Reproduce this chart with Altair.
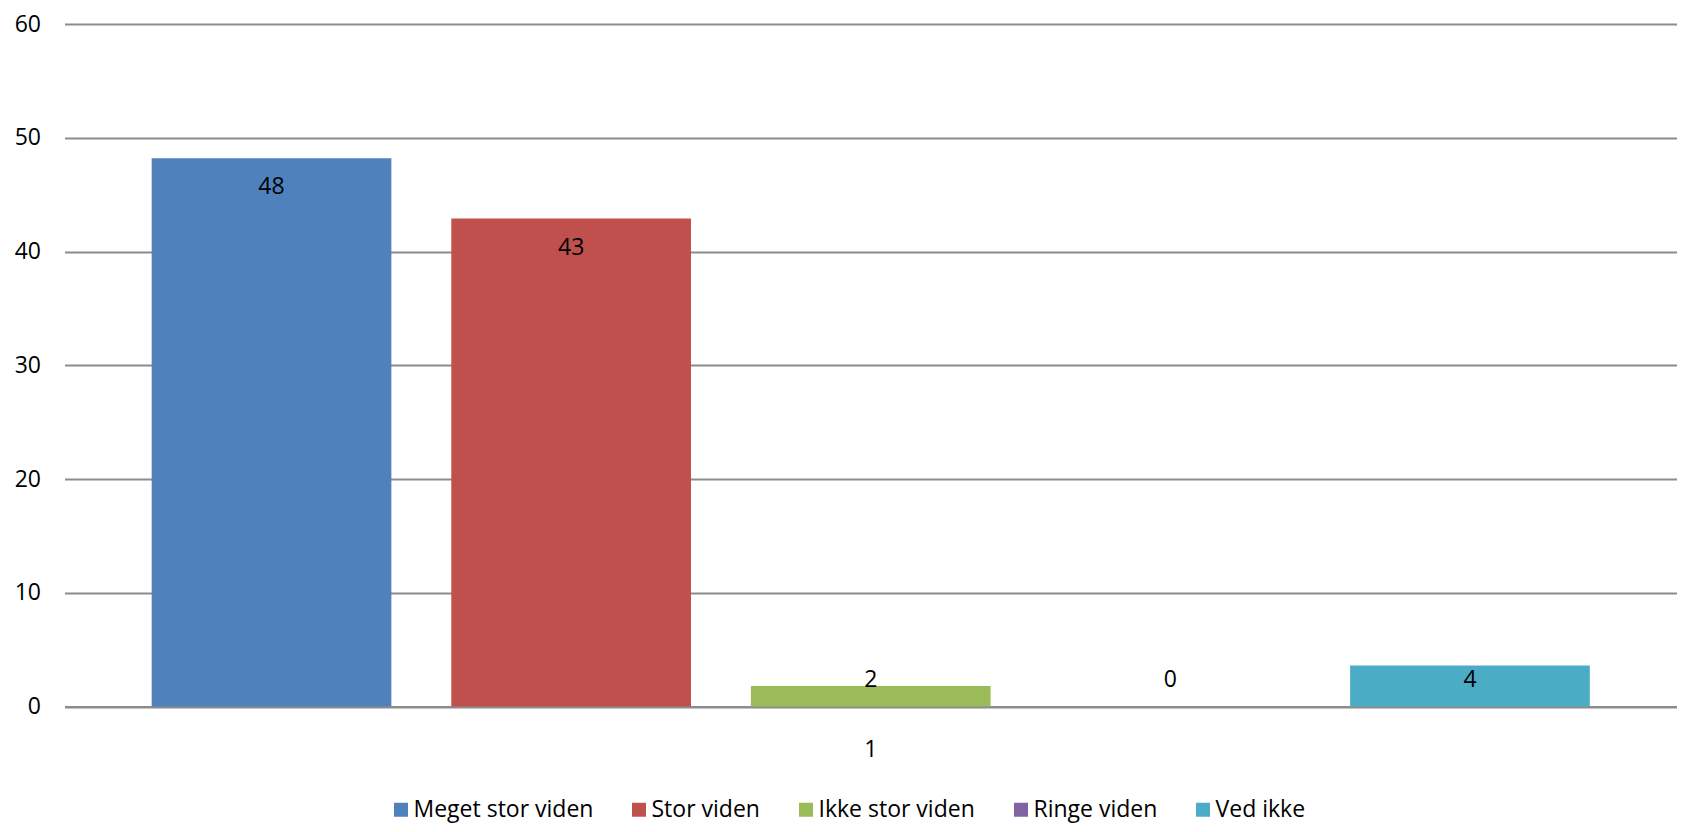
import altair as alt
import pandas as pd

# ---- data ----
serier = ["Meget stor viden", "Stor viden", "Ikke stor viden", "Ringe viden", "Ved ikke"]
vaerdier = [48.2, 42.9, 1.8, 0.0, 3.6]
farver = ["#4F81BD", "#C0504D", "#9BBB59", "#8064A2", "#4BACC6"]
gruppe = ["1", "1", "1", "1", "1"]
y_ticks = [0, 10, 20, 30, 40, 50, 60]

df = pd.DataFrame({"serie": serier, "vaerdi": vaerdier, "gruppe": gruppe})

FONT = "Open Sans"
FS = 23
GRID = "#8C8C8C"

x_enc = alt.X(
    "gruppe:N",
    title=None,
    scale=alt.Scale(paddingInner=0, paddingOuter=0),
    axis=alt.Axis(
        labelAngle=0, ticks=False, tickSize=0, domain=True,
        domainColor=GRID, domainWidth=2, labelPadding=32,
        labelFontSize=FS, labelFont=FONT, labelColor="#000000",
    ),
)
xoff = alt.XOffset(
    "serie:N", sort=serier,
    scale=alt.Scale(paddingInner=0.2, paddingOuter=0.291),
)
y_scale = alt.Scale(domain=[0, 60], nice=False, zero=True)

bars = alt.Chart(df).mark_bar().encode(
    x=x_enc,
    xOffset=xoff,
    y=alt.Y(
        "vaerdi:Q", title=None, scale=y_scale,
        axis=alt.Axis(
            values=y_ticks, domain=False, ticks=False, tickSize=0,
            grid=True, gridColor=GRID, gridWidth=2, labelPadding=24,
            labelFontSize=FS, labelFont=FONT, labelColor="#000000",
        ),
    ),
    color=alt.Color(
        "serie:N", sort=serier,
        scale=alt.Scale(domain=serier, range=farver),
        legend=alt.Legend(
            title=None, orient="none", legendX=325, legendY=774,
            direction="horizontal", symbolType="square", symbolSize=196,
            symbolStrokeWidth=0, symbolOpacity=1, labelFontSize=FS,
            labelFont=FONT, labelColor="#000000", columnPadding=34,
            labelOffset=1, padding=0, labelLimit=0,
        ),
    ),
)

labels = alt.Chart(df).transform_calculate(
    label_y="max(datum.vaerdi - 2.55, 2.3)"
).mark_text(
    font=FONT, fontSize=FS, color="#000000", baseline="middle", align="center"
).encode(
    x=alt.X("gruppe:N"),
    xOffset=alt.XOffset("serie:N", sort=serier),
    y=alt.Y("label_y:Q", scale=y_scale),
    text=alt.Text("vaerdi:Q", format=".0f"),
)

chart = alt.layer(bars, labels).properties(
    width=1612.5,
    height=682.5,
    autosize=alt.AutoSizeParams(type="none"),
    padding={"left": 56.5, "top": 16, "right": 0, "bottom": 117.5},
).configure_view(stroke=None)

chart.save("out.html", embed_options={"renderer": "svg", "actions": False})
